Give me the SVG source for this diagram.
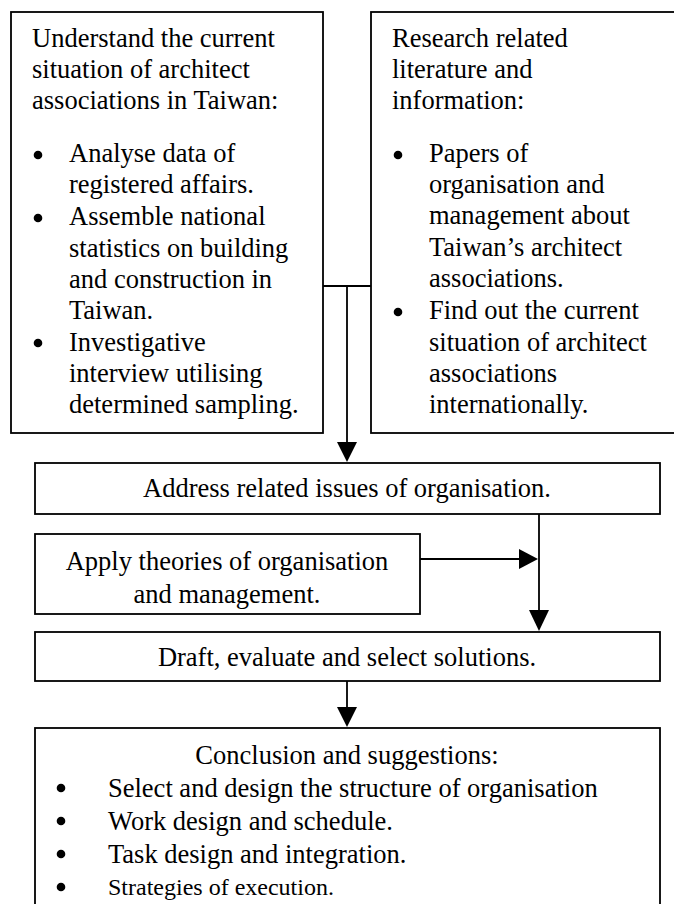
<svg xmlns="http://www.w3.org/2000/svg" width="674" height="904" viewBox="0 0 674 904">
<style>
.box{fill:#fff;stroke:#000;stroke-width:1.8}
.t{font-family:"Liberation Serif","Times New Roman",serif;font-size:26.5px;fill:#000}
.c{text-anchor:middle}
.dot{fill:#000}
.line{fill:none;stroke:#000;stroke-width:1.8}
.head{fill:#000;stroke:none}
</style>
<rect x="0" y="0" width="674" height="904" fill="#fff"/>
<g id="n1">
<rect class="box" x="11" y="12" width="312" height="421"/>
<text class="t" x="32" y="47">Understand the current</text>
<text class="t" x="32" y="78">situation of architect</text>
<text class="t" x="32" y="109">associations in Taiwan:</text>
<circle class="dot" cx="38" cy="155" r="4.3"/>
<text class="t" x="69" y="162">Analyse data of</text>
<text class="t" x="69" y="193">registered affairs.</text>
<circle class="dot" cx="38" cy="218" r="4.3"/>
<text class="t" x="69" y="225">Assemble national</text>
<text class="t" x="69" y="257">statistics on building</text>
<text class="t" x="69" y="288">and construction in</text>
<text class="t" x="69" y="319">Taiwan.</text>
<circle class="dot" cx="38" cy="343" r="4.3"/>
<text class="t" x="69" y="351">Investigative</text>
<text class="t" x="69" y="382">interview utilising</text>
<text class="t" x="69" y="413">determined sampling.</text>
</g>
<g id="n2">
<rect class="box" x="371" y="12" width="320" height="421"/>
<text class="t" x="392" y="47">Research related</text>
<text class="t" x="392" y="78">literature and</text>
<text class="t" x="392" y="109">information:</text>
<circle class="dot" cx="398" cy="155" r="4.3"/>
<text class="t" x="429" y="162">Papers of</text>
<text class="t" x="429" y="193">organisation and</text>
<text class="t" x="429" y="224">management about</text>
<text class="t" x="429" y="256">Taiwan’s architect</text>
<text class="t" x="429" y="287">associations.</text>
<circle class="dot" cx="398" cy="312" r="4.3"/>
<text class="t" x="429" y="319">Find out the current</text>
<text class="t" x="429" y="351">situation of architect</text>
<text class="t" x="429" y="382">associations</text>
<text class="t" x="429" y="413">internationally.</text>
</g>
<g id="n3">
<rect class="box" x="35" y="463" width="625" height="51"/>
<text class="t c" x="347" y="497">Address related issues of organisation.</text>
</g>
<g id="n4">
<rect class="box" x="35" y="534" width="385" height="80"/>
<text class="t c" x="227" y="570">Apply theories of organisation</text>
<text class="t c" x="227" y="603">and management.</text>
</g>
<g id="n5">
<rect class="box" x="35" y="632" width="625" height="49"/>
<text class="t c" x="347" y="666">Draft, evaluate and select solutions.</text>
</g>
<g id="n6">
<rect class="box" x="35" y="728" width="625" height="190"/>
<text class="t c" x="347" y="764">Conclusion and suggestions:</text>
<circle class="dot" cx="61" cy="788" r="4.3"/>
<text class="t" x="108" y="797">Select and design the structure of organisation</text>
<circle class="dot" cx="61" cy="821" r="4.3"/>
<text class="t" x="108" y="830">Work design and schedule.</text>
<circle class="dot" cx="61" cy="854" r="4.3"/>
<text class="t" x="108" y="863">Task design and integration.</text>
<circle class="dot" cx="61" cy="887" r="4.3"/>
<text class="t" x="108" y="895" style="font-size:24px">Strategies of execution.</text>
</g>
<g id="connectors">
<path class="line" d="M323 286 H371 M347 286 V444"/>
<polygon class="head" points="337,442 357,442 347,462"/>
<path class="line" d="M539 514 V612"/>
<polygon class="head" points="529,610 549,610 539,631"/>
<path class="line" d="M420 559 H520"/>
<polygon class="head" points="519,549 519,569 538,559"/>
<path class="line" d="M347 681 V709"/>
<polygon class="head" points="337,707 357,707 347,727"/>
</g>
</svg>
